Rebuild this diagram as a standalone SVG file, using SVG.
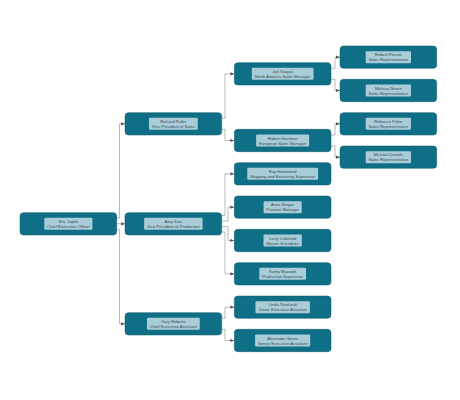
<svg xmlns="http://www.w3.org/2000/svg" width="460" height="400" viewBox="0 0 460 400">
<style>
.box{fill:#0f6f87;stroke:#0a5b6f;stroke-width:0.5}
.lbl{fill:#a9cdd8}
.t{font-family:"Liberation Sans",Arial,sans-serif;font-size:4.2px;fill:#3d4a50;text-anchor:middle;dominant-baseline:central}
.e{fill:none;stroke:#8a8a8a;stroke-width:0.6}
</style>
<defs>
<marker id="a" viewBox="0 0 4 4" refX="4" refY="2" markerWidth="4" markerHeight="4" markerUnits="userSpaceOnUse" orient="auto">
<path d="M0,0.4 L4,2 L0,3.6 Z" fill="#555"/>
</marker>
</defs>
<rect width="460" height="400" fill="#fff"/>
<g id="connectors">
<path class="e" marker-end="url(#a)" d="M116.7,223.8 H125"/>
<path class="e" marker-end="url(#a)" d="M116.7,218.3 H119.5 V123.8 H125"/>
<path class="e" marker-end="url(#a)" d="M116.7,229.3 H119.5 V323.8 H125"/>
<path class="e" marker-end="url(#a)" d="M221.7,118.3 H225 V73.8 H234.3"/>
<path class="e" marker-end="url(#a)" d="M221.7,129.3 H225 V140.5 H234.3"/>
<path class="e" marker-end="url(#a)" d="M221.7,215.5 H225 V173.8 H234.3"/>
<path class="e" marker-end="url(#a)" d="M221.7,221 H228 V207.2 H234.3"/>
<path class="e" marker-end="url(#a)" d="M221.7,226.6 H228 V240.5 H234.3"/>
<path class="e" marker-end="url(#a)" d="M221.7,232 H225 V273.8 H234.3"/>
<path class="e" marker-end="url(#a)" d="M221.7,318.3 H225 V307.2 H234.3"/>
<path class="e" marker-end="url(#a)" d="M221.7,329.3 H225 V340.5 H234.3"/>
<path class="e" marker-end="url(#a)" d="M331,68.3 H335 V57.2 H340"/>
<path class="e" marker-end="url(#a)" d="M331,79.3 H335 V90.5 H340"/>
<path class="e" marker-end="url(#a)" d="M331,135 H335 V123.8 H340"/>
<path class="e" marker-end="url(#a)" d="M331,146 H335 V157.2 H340"/>
</g>
<g id="eric">
<rect class="box" x="20" y="212.67" width="96.7" height="22.33" rx="3.5"/>
<rect class="lbl" x="44.3" y="217.8" width="48.1" height="12" rx="1"/>
<text class="t" x="68.35" y="221.4">Eric Joplin</text>
<text class="t" x="68.35" y="226.3">Chief Executive Officer</text>
</g>
<g id="richard">
<rect class="box" x="125" y="112.67" width="96.7" height="22.33" rx="3.5"/>
<rect class="lbl" x="148.95" y="117.8" width="48.8" height="12" rx="1"/>
<text class="t" x="173.35" y="121.4">Richard Fuller</text>
<text class="t" x="173.35" y="126.3">Vice President of Sales</text>
</g>
<g id="amy">
<rect class="box" x="125" y="212.67" width="96.7" height="22.33" rx="3.5"/>
<rect class="lbl" x="144.15" y="217.8" width="58.4" height="12" rx="1"/>
<text class="t" x="173.35" y="221.4">Amy Kain</text>
<text class="t" x="173.35" y="226.3">Vice President of Production</text>
</g>
<g id="gary">
<rect class="box" x="125" y="312.67" width="96.7" height="22.33" rx="3.5"/>
<rect class="lbl" x="146.95" y="317.8" width="52.8" height="12" rx="1"/>
<text class="t" x="173.35" y="321.4">Gary Roberts</text>
<text class="t" x="173.35" y="326.3">Chief Executive Assistant</text>
</g>
<g id="joe">
<rect class="box" x="234.3" y="62.67" width="96.7" height="22.33" rx="3.5"/>
<rect class="lbl" x="251.8" y="67.8" width="61.7" height="12" rx="1"/>
<text class="t" x="282.65" y="71.4">Joe Vargas</text>
<text class="t" x="282.65" y="76.3">North America Sales Manager</text>
</g>
<g id="hartman">
<rect class="box" x="234.3" y="129.33" width="96.7" height="22.33" rx="3.5"/>
<rect class="lbl" x="256.15" y="134.5" width="53" height="12" rx="1"/>
<text class="t" x="282.65" y="138.1">Robert Hartman</text>
<text class="t" x="282.65" y="143">European Sales Manager</text>
</g>
<g id="ray">
<rect class="box" x="234.3" y="162.67" width="96.7" height="22.33" rx="3.5"/>
<rect class="lbl" x="247.25" y="167.8" width="70.8" height="12" rx="1"/>
<text class="t" x="282.65" y="171.4">Ray Hammond</text>
<text class="t" x="282.65" y="176.3">Shipping and Receiving Supervisor</text>
</g>
<g id="anne">
<rect class="box" x="234.3" y="196" width="96.7" height="22.33" rx="3.5"/>
<rect class="lbl" x="263.6" y="201.15" width="38.1" height="12" rx="1"/>
<text class="t" x="282.65" y="204.75">Anne Binger</text>
<text class="t" x="282.65" y="209.65">Position Manager</text>
</g>
<g id="larry">
<rect class="box" x="234.3" y="229.33" width="96.7" height="22.33" rx="3.5"/>
<rect class="lbl" x="263.5" y="234.5" width="38.3" height="12" rx="1"/>
<text class="t" x="282.65" y="238.1">Larry Littlefield</text>
<text class="t" x="282.65" y="243">Master Scheduler</text>
</g>
<g id="kathy">
<rect class="box" x="234.3" y="262.67" width="96.7" height="22.33" rx="3.5"/>
<rect class="lbl" x="259.3" y="267.8" width="46.7" height="12" rx="1"/>
<text class="t" x="282.65" y="271.4">Kathy Maxwell</text>
<text class="t" x="282.65" y="276.3">Production Supervisor</text>
</g>
<g id="linda">
<rect class="box" x="234.3" y="296" width="96.7" height="22.33" rx="3.5"/>
<rect class="lbl" x="255.45" y="301.15" width="54.4" height="12" rx="1"/>
<text class="t" x="282.65" y="304.75">Linda Newland</text>
<text class="t" x="282.65" y="309.65">Junior Executive Assistant</text>
</g>
<g id="alexander">
<rect class="box" x="234.3" y="329.33" width="96.7" height="22.33" rx="3.5"/>
<rect class="lbl" x="255.1" y="334.5" width="55.1" height="12" rx="1"/>
<text class="t" x="282.65" y="338.1">Alexander Burns</text>
<text class="t" x="282.65" y="343">Senior Executive Assistant</text>
</g>
<g id="parson">
<rect class="box" x="340" y="46" width="96.7" height="22.33" rx="3.5"/>
<rect class="lbl" x="365.7" y="51.15" width="45.3" height="12" rx="1"/>
<text class="t" x="388.35" y="54.75">Robert Parson</text>
<text class="t" x="388.35" y="59.65">Sales Representative</text>
</g>
<g id="melissa">
<rect class="box" x="340" y="79.33" width="96.7" height="22.33" rx="3.5"/>
<rect class="lbl" x="365.7" y="84.5" width="45.3" height="12" rx="1"/>
<text class="t" x="388.35" y="88.1">Melissa Noren</text>
<text class="t" x="388.35" y="93">Sales Representative</text>
</g>
<g id="rebecca">
<rect class="box" x="340" y="112.67" width="96.7" height="22.33" rx="3.5"/>
<rect class="lbl" x="365.7" y="117.8" width="45.3" height="12" rx="1"/>
<text class="t" x="388.35" y="121.4">Rebecca Polite</text>
<text class="t" x="388.35" y="126.3">Sales Representative</text>
</g>
<g id="michael">
<rect class="box" x="340" y="146" width="96.7" height="22.33" rx="3.5"/>
<rect class="lbl" x="365.7" y="151.15" width="45.3" height="12" rx="1"/>
<text class="t" x="388.35" y="154.75">Michael Daniels</text>
<text class="t" x="388.35" y="159.65">Sales Representative</text>
</g>
</svg>
